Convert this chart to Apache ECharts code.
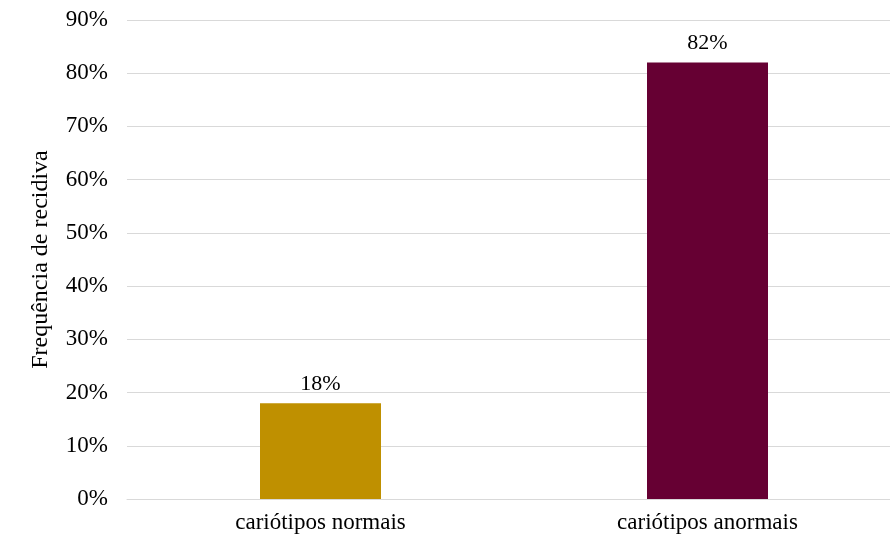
<!DOCTYPE html>
<html>
<head>
<meta charset="utf-8">
<script src="https://cdn.jsdelivr.net/npm/echarts@6/dist/echarts.min.js"></script>
<style>
  html, body { margin: 0; padding: 0; background: #fff; }
  #chart { width: 890px; height: 539px; }
</style>
</head>
<body>
<div id="chart"></div>
<script>
// Recurrence frequency by karyotype group
const categories = ['cariótipos normais', 'cariótipos anormais'];
const values = [18, 82];
const barColors = ['#BF9000', '#660033'];
const yAxisTitle = 'Frequência de recidiva';

const FONT = '"Liberation Serif", "Times New Roman", serif';

const chart = echarts.init(document.getElementById('chart'), null, { renderer: 'canvas' });
chart.setOption({
  animation: false,
  backgroundColor: '#ffffff',
  grid: { left: 127, right: -11, top: 20, bottom: 40, containLabel: false, outerBoundsMode: 'none' },
  xAxis: {
    type: 'category',
    data: categories,
    axisLine: { show: true, lineStyle: { color: '#d9d9d9', width: 1 } },
    axisTick: { show: false },
    axisLabel: { color: '#000', fontFamily: FONT, fontSize: 23, margin: 12 }
  },
  yAxis: {
    type: 'value',
    min: 0,
    max: 90,
    interval: 10,
    name: yAxisTitle,
    nameLocation: 'middle',
    nameGap: 74,
    nameTextStyle: { color: '#000', fontFamily: FONT, fontSize: 24 },
    axisLine: { show: false },
    axisTick: { show: false },
    axisLabel: { color: '#000', fontFamily: FONT, fontSize: 23, margin: 19, formatter: '{value}%' },
    splitLine: { lineStyle: { color: '#d9d9d9', width: 1 } }
  },
  series: [{
    type: 'bar',
    data: values.map((v, i) => ({ value: v, itemStyle: { color: barColors[i] } })),
    barWidth: 121,
    label: {
      show: true,
      position: 'top',
      distance: 8,
      color: '#000',
      fontFamily: FONT,
      fontSize: 22,
      formatter: p => p.value + '%'
    }
  }]
});
</script>
</body>
</html>
